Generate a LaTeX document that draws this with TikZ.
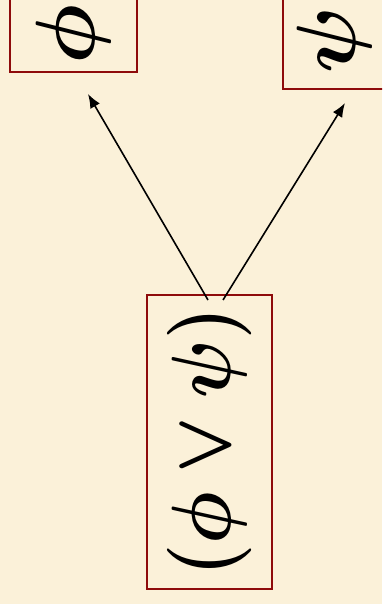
\documentclass[tikz,border=0pt]{standalone}
\usepackage{xcolor}
\definecolor{parchment}{HTML}{FBF1D9}
\definecolor{boxred}{HTML}{8E0B0B}
\usetikzlibrary{arrows.meta}
\newcommand{\bigform}[2][1.69]{\scalebox{#1}[1.69]{\Huge\boldmath$#2$}}
\tikzset{
  formbox/.style={
    rectangle, draw=boxred, line width=1pt, rotate=90, inner sep=0pt
  },
  arrow/.style={-{Latex[length=7pt,width=5.5pt]}, line width=0.8pt, draw=black}
}

\begin{document}
\begin{tikzpicture}[x=0.5pt,y=0.5pt]
  \fill[parchment] (0,0) rectangle (382,-604);
  \useasboundingbox (0,0) rectangle (382,-604);
  \clip (0,0) rectangle (382,-604);

  % minimum sizes in pt (half a pixel each)
  \node[formbox, minimum width=37pt, minimum height=63.5pt] (phi) at (73.5,-35) {\bigform{\phi}};
  \node[formbox, minimum width=49pt, minimum height=51pt] (psi) at (334,-40) {\bigform{\psi}};
  \node[formbox, minimum width=147pt, minimum height=62.5pt] (disj) at (209.5,-442) {\bigform[1.48]{(\phi\vee\psi)}};

  \coordinate (startl) at (208,-300);
  \coordinate (startr) at (223,-300);
  \coordinate (tipl) at (88,-94);
  \coordinate (tipr) at (345,-103);

  \draw[arrow] (startl) -- (tipl);
  \draw[arrow] (startr) -- (tipr);
\end{tikzpicture}
\end{document}
